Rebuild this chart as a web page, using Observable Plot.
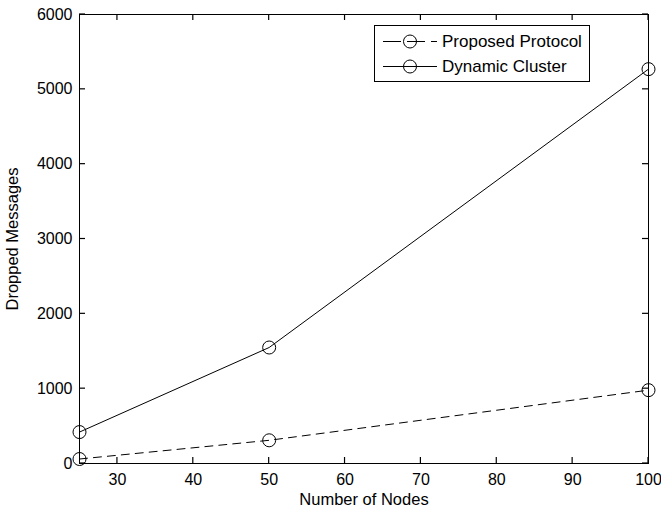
<!DOCTYPE html>
<html>
<head>
<meta charset="utf-8">
<script src="https://cdn.jsdelivr.net/npm/d3@7"></script>
<script src="https://cdn.jsdelivr.net/npm/@observablehq/plot@0.6"></script>
<style>
  html, body { margin: 0; padding: 0; background: #fff; }
  #chart { width: 661px; height: 512px; }
</style>
</head>
<body>
<div id="chart"></div>
<script>
// Dropped messages versus network size for the two protocols
const nodes = [25, 50, 100];
const proposedProtocol = [60, 310, 980];
const dynamicCluster = [420, 1550, 5270];
const seriesNames = ["Proposed Protocol", "Dynamic Cluster"];
const xTicks = [30, 40, 50, 60, 70, 80, 90, 100];
const yTicks = [0, 1000, 2000, 3000, 4000, 5000, 6000];

const proposedRows = nodes.map((n, i) => ({n, v: proposedProtocol[i]}));
const dynamicRows = nodes.map((n, i) => ({n, v: dynamicCluster[i]}));

const font = "'Liberation Sans', Arial, Helvetica, sans-serif";
const dash = "8,6";
const plain = d3.format("d");

const W = 661, H = 512;
const mL = 79, mR = 13, mT = 14, mB = 49;
const tickLen = 6;

const svg = Plot.plot({
  width: W,
  height: H,
  marginLeft: mL,
  marginRight: mR,
  marginTop: mT,
  marginBottom: mB,
  style: {fontFamily: font, fontSize: "16px", color: "#000", background: "#fff", overflow: "visible"},
  x: {domain: [25, 100]},
  y: {domain: [0, 6000]},
  marks: [
    Plot.frame({stroke: "#000", strokeWidth: 1}),
    // tick labels
    Plot.axisX(xTicks, {anchor: "bottom", tickSize: 0, tickPadding: 10, tickFormat: plain, label: null, fontSize: 16}),
    Plot.axisY(yTicks, {anchor: "left", tickSize: 0, tickPadding: 7, tickFormat: plain, label: null, fontSize: 16}),
    // axis titles
    Plot.text(["Number of Nodes"], {frameAnchor: "bottom", dy: 36, textAnchor: "middle", lineAnchor: "middle", fontSize: 16.5, fill: "#000"}),
    Plot.text(["Dropped Messages"], {frameAnchor: "left", dx: -67, rotate: -90, textAnchor: "middle", lineAnchor: "middle", fontSize: 16.5, fill: "#000"}),
    // series
    Plot.line(dynamicRows, {x: "n", y: "v", stroke: "#000", strokeWidth: 1}),
    Plot.line(proposedRows, {x: "n", y: "v", stroke: "#000", strokeWidth: 1, strokeDasharray: dash}),
    Plot.dot(dynamicRows, {x: "n", y: "v", r: 6.5, stroke: "#000", fill: "none", strokeWidth: 1}),
    Plot.dot(proposedRows, {x: "n", y: "v", r: 6.5, stroke: "#000", fill: "none", strokeWidth: 1})
  ]
});

// Short inward ticks on all four sides, placed with the plot's own scales
const sx = svg.scale("x"), sy = svg.scale("y");
const frameTop = mT, frameBottom = H - mB, frameLeft = mL, frameRight = W - mR;
const tickLayer = d3.select(svg).append("g").attr("stroke", "#000").attr("stroke-width", 1.2);
xTicks.forEach(v => {
  const x = sx.apply(v);
  tickLayer.append("line").attr("x1", x).attr("x2", x).attr("y1", frameBottom).attr("y2", frameBottom - tickLen);
  tickLayer.append("line").attr("x1", x).attr("x2", x).attr("y1", frameTop).attr("y2", frameTop + tickLen);
});
yTicks.forEach(v => {
  const y = sy.apply(v);
  tickLayer.append("line").attr("x1", frameLeft).attr("x2", frameLeft + tickLen).attr("y1", y).attr("y2", y);
  tickLayer.append("line").attr("x1", frameRight).attr("x2", frameRight - tickLen).attr("y1", y).attr("y2", y);
});

// Legend box in the upper right of the axes
const legend = d3.select(svg).append("g")
  .attr("font-family", font).attr("font-size", 17).attr("text-anchor", "start");
legend.append("rect").attr("x", 374.5).attr("y", 25.5).attr("width", 215).attr("height", 56)
  .attr("fill", "#fff").attr("stroke", "#000");
seriesNames.forEach((name, i) => {
  const cy = 41.5 + i * 25;
  legend.append("line").attr("x1", 383).attr("x2", 437).attr("y1", cy).attr("y2", cy)
    .attr("stroke", "#000").attr("stroke-dasharray", i === 0 ? "18,6" : null);
  legend.append("circle").attr("cx", 410).attr("cy", cy).attr("r", 6.5)
    .attr("fill", "none").attr("stroke", "#000");
  legend.append("text").attr("x", 442).attr("y", cy).attr("dy", "0.35em")
    .attr("text-anchor", "start").attr("fill", "#000").text(name);
});

document.getElementById("chart").appendChild(svg);
</script>
</body>
</html>
